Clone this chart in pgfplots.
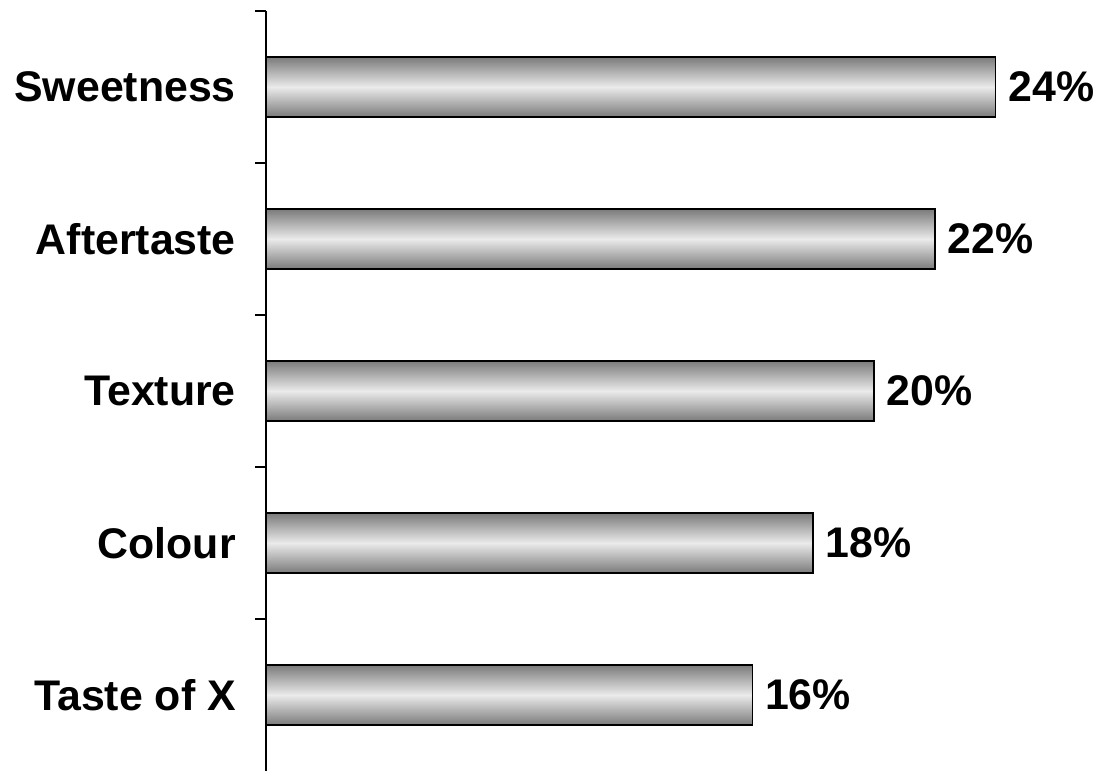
\documentclass[border=0pt]{standalone}
\usepackage{pgfplots}
\pgfplotsset{compat=1.18}
\usepackage{fontspec}
\setmainfont{Liberation Sans}
\begin{document}
\begin{tikzpicture}
\useasboundingbox (-266bp,-1bp) rectangle (833bp,771bp);
\begin{axis}[
  at={(0,0)}, anchor=south west,
  scale only axis, width=833bp, height=760bp,
  xmin=0, xmax=27.4, ymin=-0.5, ymax=4.5,
  axis lines=left,
  axis line style={-, black, line width=1.2bp},
  x axis line style={draw=none},
  xtick=\empty,
  ytick={0,1,2,3,4},
  yticklabels={Taste of X, Colour, Texture, Aftertaste, Sweetness},
  major tick length=0pt,
  minor ytick={0.5,1.5,2.5,3.5,4.5},
  minor tick length=11bp,
  tick align=outside,
  tick style={black, line width=1.2bp},
  y tick label style={font=\fontsize{43}{43}\selectfont\bfseries, inner sep=0pt, xshift=-30bp},
  clip=false,
  /pgf/number format/assume math mode=true,
  point meta=x,
  nodes near coords={\pgfmathprintnumber{\pgfplotspointmeta}\%},
  nodes near coords style={font=\fontsize{43}{43}\selectfont\bfseries, text=black, anchor=west, inner sep=0pt, xshift=12bp},
  mybar/.style={xbar, bar width=60bp, bar shift=0pt, draw=black, line width=1.5bp,
    top color=black!52, bottom color=black!52, middle color=black!8},
]
\addplot[mybar] coordinates {(16,0)};
\addplot[mybar] coordinates {(18,1)};
\addplot[mybar] coordinates {(20,2)};
\addplot[mybar] coordinates {(22,3)};
\addplot[mybar] coordinates {(24,4)};
\end{axis}
\end{tikzpicture}
\end{document}
